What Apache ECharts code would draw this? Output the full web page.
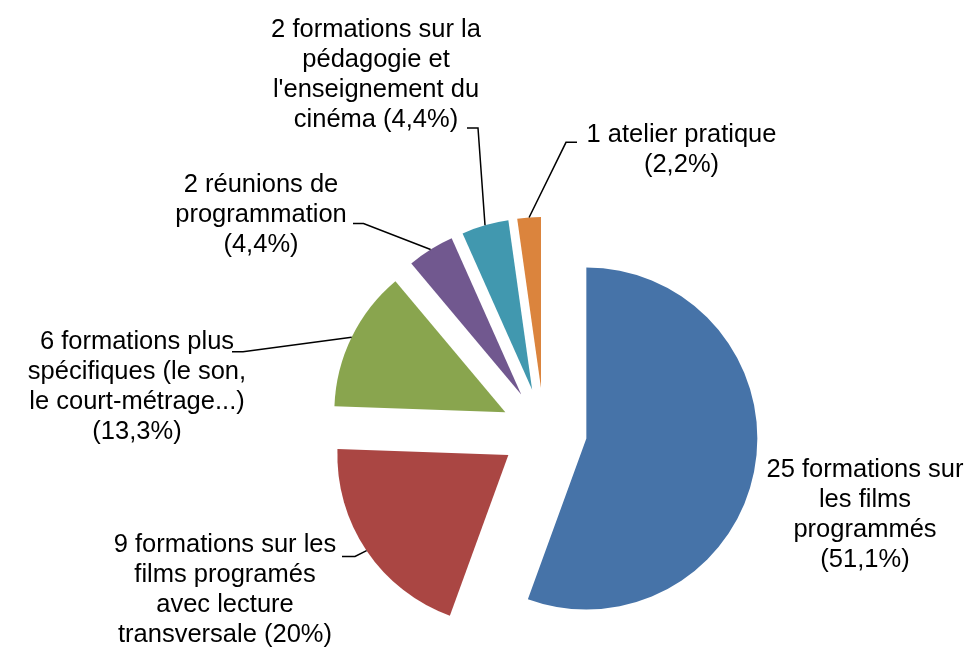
<!DOCTYPE html>
<html>
<head>
<meta charset="utf-8">
<script src="https://cdn.jsdelivr.net/npm/echarts@6/dist/echarts.min.js"></script>
<style>
html,body{margin:0;padding:0;background:#ffffff;}
#chart{width:972px;height:649px;}
</style>
</head>
<body>
<div id="chart"></div>
<script>
// ---- Data ----
const categories = [
  '25 formations sur les films programmés',
  '9 formations sur les films programés avec lecture transversale',
  '6 formations plus spécifiques (le son, le court-métrage...)',
  '2 réunions de programmation',
  "2 formations sur la pédagogie et l'enseignement du cinéma",
  '1 atelier pratique'
];
const values = [25, 9, 6, 2, 2, 1];
const labelTexts = [
  '25 formations sur\nles films\nprogrammés\n(51,1%)',
  '9 formations sur les\nfilms programés\navec lecture\ntransversale (20%)',
  '6 formations plus\nspécifiques (le son,\nle court-métrage...)\n(13,3%)',
  '2 réunions de\nprogrammation\n(4,4%)',
  "2 formations sur la\npédagogie et\nl'enseignement du\ncinéma (4,4%)",
  '1 atelier pratique\n(2,2%)'
];

// ---- Layout / style ----
const colors = ['#4673A8', '#AA4643', '#89A54E', '#71588F', '#4198AF', '#DB843D'];
const CENTER = [544, 431];
const RADIUS = 171;
const EXPLODE = 43;
const labelCenters = [[865, 515], [225, 590], [137, 387], [261, 215], [376, 75], [681.5, 150]];
const leaderBends = [
  null,
  [[355, 556.5], [342, 556.5]],
  [[243, 351.7], [232, 351.7]],
  [[363.5, 223.5], [353, 223.5]],
  [[478, 128], [467, 128]],
  [[566, 142.3], [577, 142.3]]
];

const chart = echarts.init(document.getElementById('chart'), null, {renderer: 'canvas'});

const mainData = values.map((v, i) => ({
  name: categories[i],
  value: v,
  selected: true,
  itemStyle: {color: colors[i], borderWidth: 0},
  select: {itemStyle: {color: colors[i], borderWidth: 0}}
}));

const labelData = values.map((v, i) => ({
  name: categories[i],
  value: v,
  labelLine: {show: i !== 0}
}));

chart.setOption({
  animation: false,
  backgroundColor: '#ffffff',
  series: [
    {
      type: 'pie',
      center: CENTER,
      radius: RADIUS,
      startAngle: 90,
      clockwise: true,
      selectedMode: 'multiple',
      selectedOffset: EXPLODE,
      silent: true,
      label: {show: false},
      labelLine: {show: false},
      emphasis: {disabled: true},
      data: mainData
    },
    {
      type: 'pie',
      center: CENTER,
      radius: RADIUS,
      startAngle: 90,
      clockwise: true,
      silent: true,
      avoidLabelOverlap: false,
      z: 5,
      itemStyle: {color: 'rgba(0,0,0,0)', borderWidth: 0},
      emphasis: {disabled: true},
      label: {
        show: true,
        formatter: p => labelTexts[p.dataIndex],
        fontFamily: '"Liberation Sans", Arial, sans-serif',
        fontSize: 25.5,
        lineHeight: 30,
        color: '#000000',
        align: 'center'
      },
      labelLine: {
        show: true,
        length: 15,
        length2: 10,
        smooth: false,
        lineStyle: {color: '#000000', width: 1.5}
      },
      labelLayout: function (p) {
        const i = p.dataIndex;
        const res = {
          x: labelCenters[i][0],
          y: labelCenters[i][1],
          align: 'center',
          verticalAlign: 'middle'
        };
        const pts = p.labelLinePoints;
        if (pts && leaderBends[i]) {
          const p0 = pts[0];
          const dx = p0[0] - CENTER[0];
          const dy = p0[1] - CENTER[1];
          const L = Math.sqrt(dx * dx + dy * dy) || 1;
          const a = [p0[0] + EXPLODE * dx / L, p0[1] + EXPLODE * dy / L];
          res.labelLinePoints = [a, leaderBends[i][0], leaderBends[i][1]];
        }
        return res;
      },
      data: labelData
    }
  ]
});
</script>
</body>
</html>
